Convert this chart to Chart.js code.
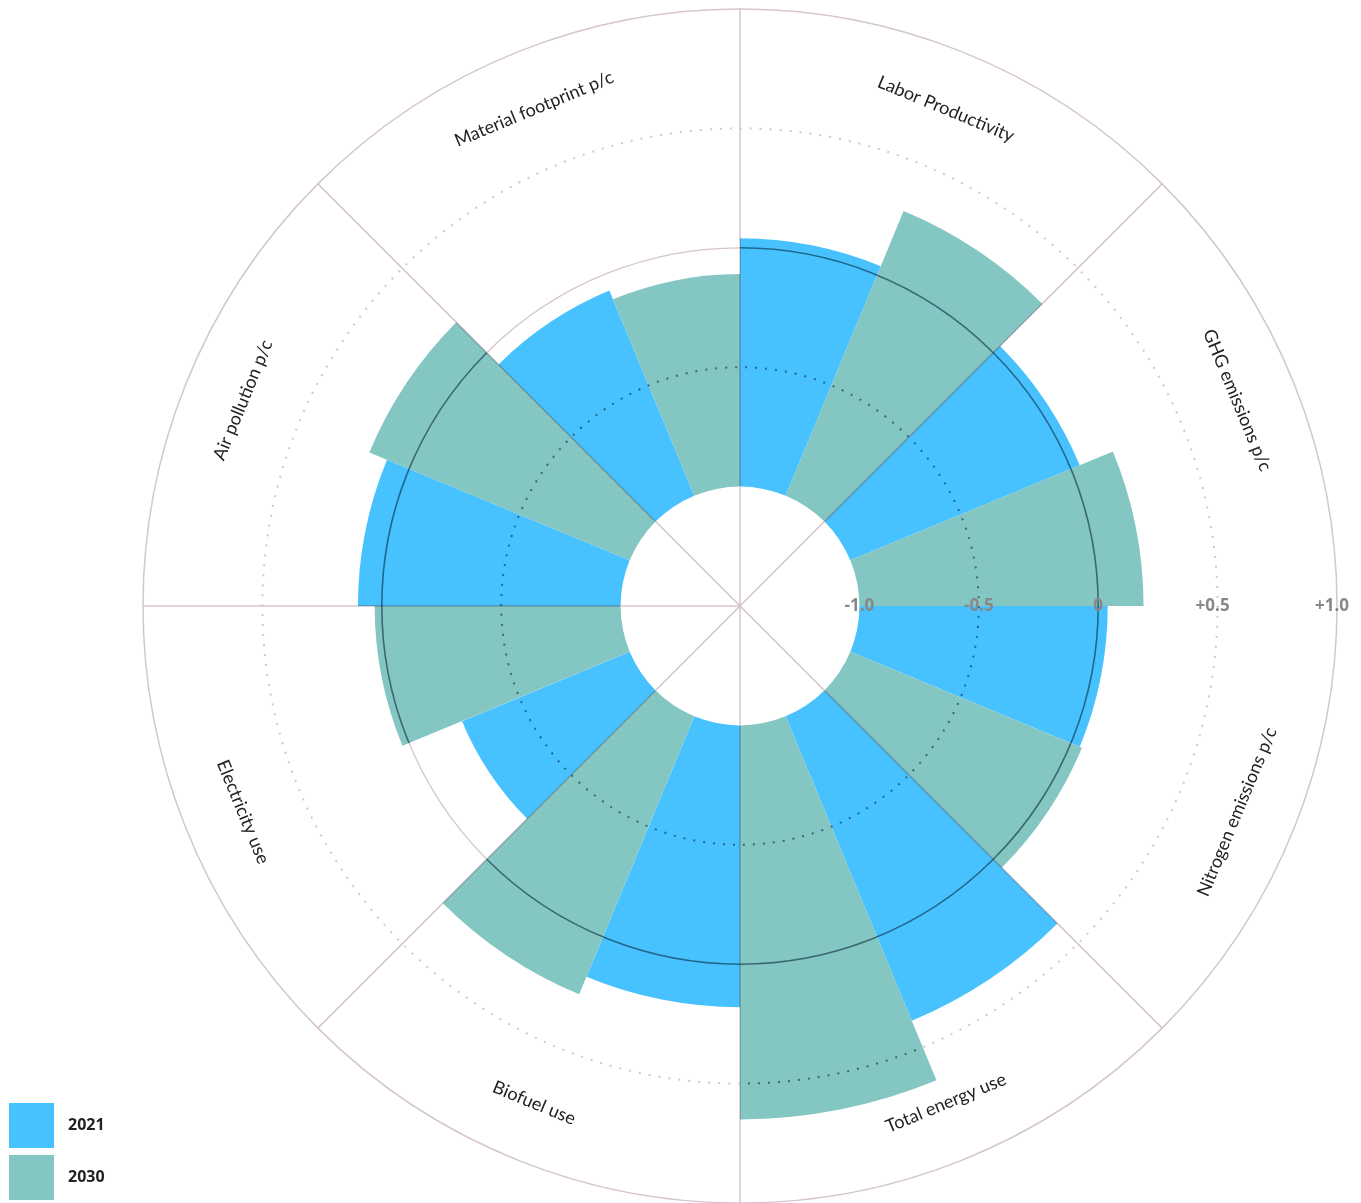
<!DOCTYPE html>
<html>
<head>
<meta charset="utf-8">
<script src="https://cdn.jsdelivr.net/npm/chart.js@4.4.0/dist/chart.umd.min.js"></script>
<style>
  body { margin: 0; background: #fff; }
  #wrap { position: relative; width: 1361px; height: 1203px; }
  .legend { position: absolute; left: 9px; font: 700 16px "Open Sans", sans-serif; color: #222; }
  .legend span { display: inline-block; width: 45px; height: 45px; vertical-align: middle; margin-right: 14px; }
</style>
</head>
<body>
<div id="wrap">
  <canvas id="roseChart"></canvas>
  <div class="legend" style="top:1103px"><span style="background:#48c2fe"></span>2021</div>
  <div class="legend" style="top:1155px"><span style="background:#84c6c2"></span>2030</div>
</div>
<script>
//   <------------ Data ------------->
const categories = [
  'Labor Productivity',
  'GHG emissions p/c',
  'Nitrogen emissions p/c',
  'Total energy use',
  'Biofuel use',
  'Electricity use',
  'Air pollution p/c',
  'Material footprint p/c'
];
const values2021 = [0.04, 0.04, 0.04, 0.38, 0.18, -0.24, 0.10, -0.07];
const values2030 = [0.29, 0.19, 0.05, 0.65, 0.26, 0.03, 0.18, -0.11];
const tickValues = [-1.0, -0.5, 0, 0.5, 1.0];
const tickLabels = ['-1.0', '-0.5', '0', '+0.5', '+1.0'];

const blue = '#48c2fe';
const teal = '#84c6c2';
const pink = '#d6c6cc';
const dark = 'rgba(0, 30, 50, 0.55)';

// each category gets two slices: 2021 then 2030
const labels = [];
const values = [];
const colors = [];
categories.forEach((c, i) => {
  labels.push(c + ' 2021', c + ' 2030');
  values.push(values2021[i], values2030[i]);
  colors.push(blue, teal);
});

//   <------------ Grid helpers ------------->
function circle(ctx, s, v, color, width, dash) {
  ctx.save();
  ctx.strokeStyle = color;
  ctx.lineWidth = width;
  ctx.setLineDash(dash || []);
  ctx.beginPath();
  ctx.arc(s.xCenter, s.yCenter, s.getDistanceFromCenterForValue(v), 0, Math.PI * 2);
  ctx.stroke();
  ctx.restore();
}

function spokes(ctx, s, color, width, toValue) {
  const r = s.getDistanceFromCenterForValue(toValue);
  ctx.save();
  ctx.strokeStyle = color;
  ctx.lineWidth = width;
  ctx.beginPath();
  for (let i = 0; i < categories.length; i++) {
    if (i === 2) continue; // no spoke where the tick labels sit
    const a = s.getIndexAngle(i * 2) - Math.PI / 2;
    ctx.moveTo(s.xCenter, s.yCenter);
    ctx.lineTo(s.xCenter + r * Math.cos(a), s.yCenter + r * Math.sin(a));
  }
  ctx.stroke();
  ctx.restore();
}

function gridLines(ctx, s, onBars) {
  const c = onBars ? dark : pink;
  spokes(ctx, s, onBars ? 'rgba(40, 20, 40, 0.28)' : pink, 1.5, 1.0);
  circle(ctx, s, -0.5, c, 2, [2, 8]);
  circle(ctx, s, 0.5, c, 2, [2, 8]);
  circle(ctx, s, 0, c, onBars ? 1.6 : 1.3);
}

const rosePlugin = {
  id: 'rose',
  beforeDatasetsDraw(chart) {
    const ctx = chart.ctx;
    const s = chart.scales.r;
    circle(ctx, s, 1.0, pink, 1.5);
    gridLines(ctx, s, false);
  },
  afterDatasetsDraw(chart) {
    const ctx = chart.ctx;
    const s = chart.scales.r;
    const arcs = chart.getDatasetMeta(0).data;

    // darker grid on top of the slices
    ctx.save();
    ctx.beginPath();
    arcs.forEach(el => {
      ctx.moveTo(el.x, el.y);
      ctx.arc(el.x, el.y, el.outerRadius, el.startAngle, el.endAngle);
      ctx.closePath();
    });
    ctx.clip();
    gridLines(ctx, s, true);
    ctx.restore();

    // white hole
    ctx.save();
    ctx.fillStyle = '#fff';
    ctx.beginPath();
    ctx.arc(s.xCenter, s.yCenter, s.getDistanceFromCenterForValue(-1.0), 0, Math.PI * 2);
    ctx.fill();
    ctx.restore();
    spokes(ctx, s, pink, 1.5, -1.0);

    // tick labels
    ctx.save();
    ctx.font = '700 17px "Open Sans", sans-serif';
    ctx.fillStyle = '#888';
    ctx.textAlign = 'center';
    ctx.textBaseline = 'middle';
    tickValues.forEach((v, i) => {
      const x = s.xCenter + s.getDistanceFromCenterForValue(v) - (tickLabels[i][0] === '+' ? 5 : 0);
      ctx.fillText(tickLabels[i], x, s.yCenter);
    });
    ctx.restore();

    // category labels
    ctx.save();
    ctx.font = '400 18px Lato, sans-serif';
    ctx.fillStyle = '#222';
    ctx.textAlign = 'center';
    ctx.textBaseline = 'middle';
    categories.forEach((c, i) => {
      const a = s.getIndexAngle(i * 2 + 1);
      const r = 538;
      const x = s.xCenter + r * Math.sin(a);
      const y = s.yCenter - r * Math.cos(a);
      let rot = a % Math.PI;
      if (rot > Math.PI / 2) rot -= Math.PI;
      ctx.save();
      ctx.translate(x, y);
      ctx.rotate(rot);
      ctx.fillText(c, 0, 0);
      ctx.restore();
    });
    ctx.restore();
  }
};

//   <------------ Chart ------------->
var ctx = document.getElementById('roseChart').getContext('2d');

const config = {
  type: 'polarArea',
  data: {
    labels: labels,
    datasets: [{
      label: 'Values',
      data: values,
      backgroundColor: colors,
      borderWidth: 0
    }]
  },
  options: {
    responsive: true,
    maintainAspectRatio: false,
    animation: false,
    layout: {
      padding: { left: 141, right: 22, top: 9, bottom: 0 }
    },
    plugins: {
      legend: { display: false },
      tooltip: { enabled: false }
    },
    scales: {
      r: {
        min: -1.5,
        max: 1.0,
        beginAtZero: false,
        startAngle: 0,
        grid: { display: false },
        angleLines: { display: false },
        pointLabels: { display: false },
        ticks: { display: false }
      }
    }
  },
  plugins: [rosePlugin]
};

document.getElementById('roseChart').parentNode.style.height = '1203px';
var roseChart = new Chart(ctx, config);
</script>
</body>
</html>
